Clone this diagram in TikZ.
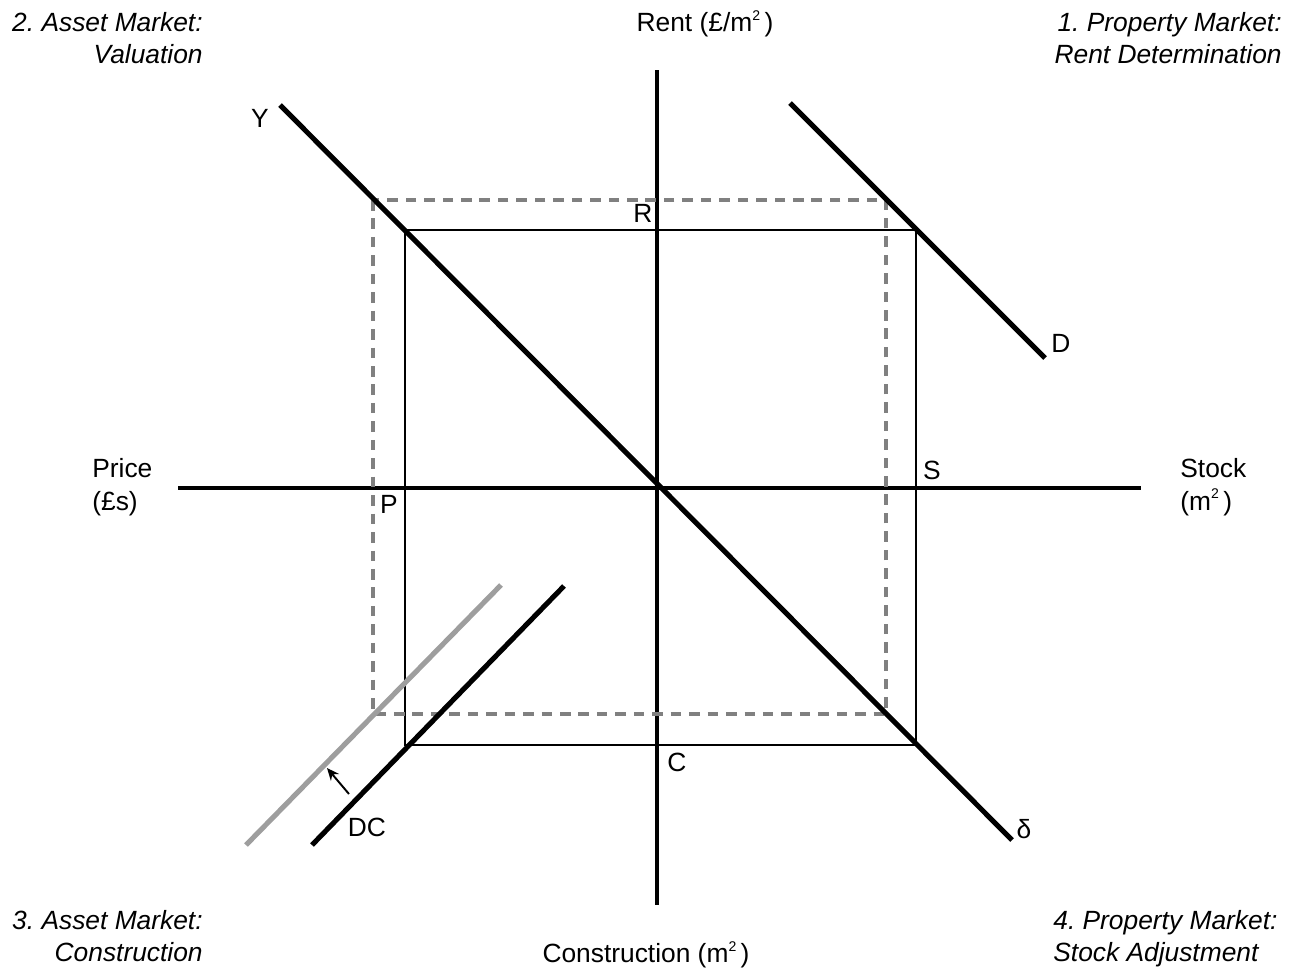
\documentclass[tikz,border=0pt]{standalone}
\usepackage{fontspec}
\setmainfont{Liberation Sans}
\usetikzlibrary{positioning,arrows.meta}
\frenchspacing
\newcommand{\sqm}{m\raisebox{0.8ex}{\fontsize{8}{8}\selectfont 2}\,}

\begin{document}
\begin{tikzpicture}[x=0.02cm, y=-0.02cm,
  every node/.style={font=\fontsize{15}{18.5}\selectfont, inner sep=0pt},
  axis/.style={line width=2pt},
  sched/.style={line width=2.9pt},
  oldsched/.style={line width=2.9pt, black!38},
  eqbox/.style={line width=1.1pt},
  newbox/.style={line width=1.9pt, black!50, dash pattern=on 6pt off 4.5pt},
  quad/.style={font=\fontsize{15}{18.5}\selectfont\itshape},
]
\useasboundingbox (0,0) rectangle (1289,971);

% axes
\coordinate (rentend)   at (657,70);
\coordinate (constrend) at (657,905);
\coordinate (priceend)  at (178,488);
\coordinate (stockend)  at (1141,488);
\draw[axis] (rentend) -- (constrend);
\draw[axis] (priceend) -- (stockend);

% equilibrium before and after
\coordinate (eqNW) at (405,230);  \coordinate (eqSE) at (916,745);
\coordinate (nwNW) at (373,200);  \coordinate (nwSE) at (886,714);
\draw[eqbox] (eqNW) rectangle (eqSE);
\draw[newbox] (nwNW) rectangle (nwSE);

% schedules
\coordinate (Ytop)   at (280,105);
\coordinate (dltbot) at (1012,840);
\draw[sched] (Ytop) -- (dltbot);
\coordinate (Dtop) at (790,103);
\coordinate (Dbot) at (1045,358);
\draw[sched] (Dtop) -- (Dbot);
\coordinate (DCold1) at (246,845);
\coordinate (DCold2) at (501,585);
\draw[oldsched] (DCold1) -- (DCold2);
\coordinate (DC1) at (312,845);
\coordinate (DC2) at (564,586);
\draw[sched] (DC1) -- (DC2);
\coordinate (shiftfrom) at (349,794);
\coordinate (shiftto)   at (327,768);
\draw[-{Stealth[length=7pt,width=6pt]}, line width=1.1pt] (shiftfrom) -- (shiftto);

% curve and point labels
\node (Ylab)  at (260,118) {Y};
\node (Dlab)  at (1061,343) {D};
\node (dlab)  at (1024,829) {δ};
\node (DClab) at (367,827) {DC};
\node (Rlab)  at (643,213) {R};
\node (Slab)  at (932,470) {S};
\node (Plab)  at (389,504) {P};
\node (Clab)  at (677,762) {C};

% axis labels
\node (rentlab)  at (705,24) {Rent (£/\sqm)};
\node (conslab)  at (646,955) {Construction (\sqm)};
\node[align=left, anchor=west] (pricelab) at (92,487) {Price\\(£s)};
\node[align=left, anchor=west] (stocklab) at (1180,487) {Stock\\(\sqm)};

% quadrants
\node[quad, align=right, anchor=north east] (valuation) at (203,12) {2. Asset Market:\\Valuation};
\node[quad, align=right, anchor=north east] (rentdet) at (1282,12) {1. Property Market:\\Rent Determination};
\node[quad, align=right, anchor=north east] (construct) at (203,910) {3. Asset Market:\\Construction};
\node[quad, align=left, anchor=north west] (stockadj) at (1053,910) {4. Property Market:\\Stock Adjustment};
\end{tikzpicture}
\end{document}
